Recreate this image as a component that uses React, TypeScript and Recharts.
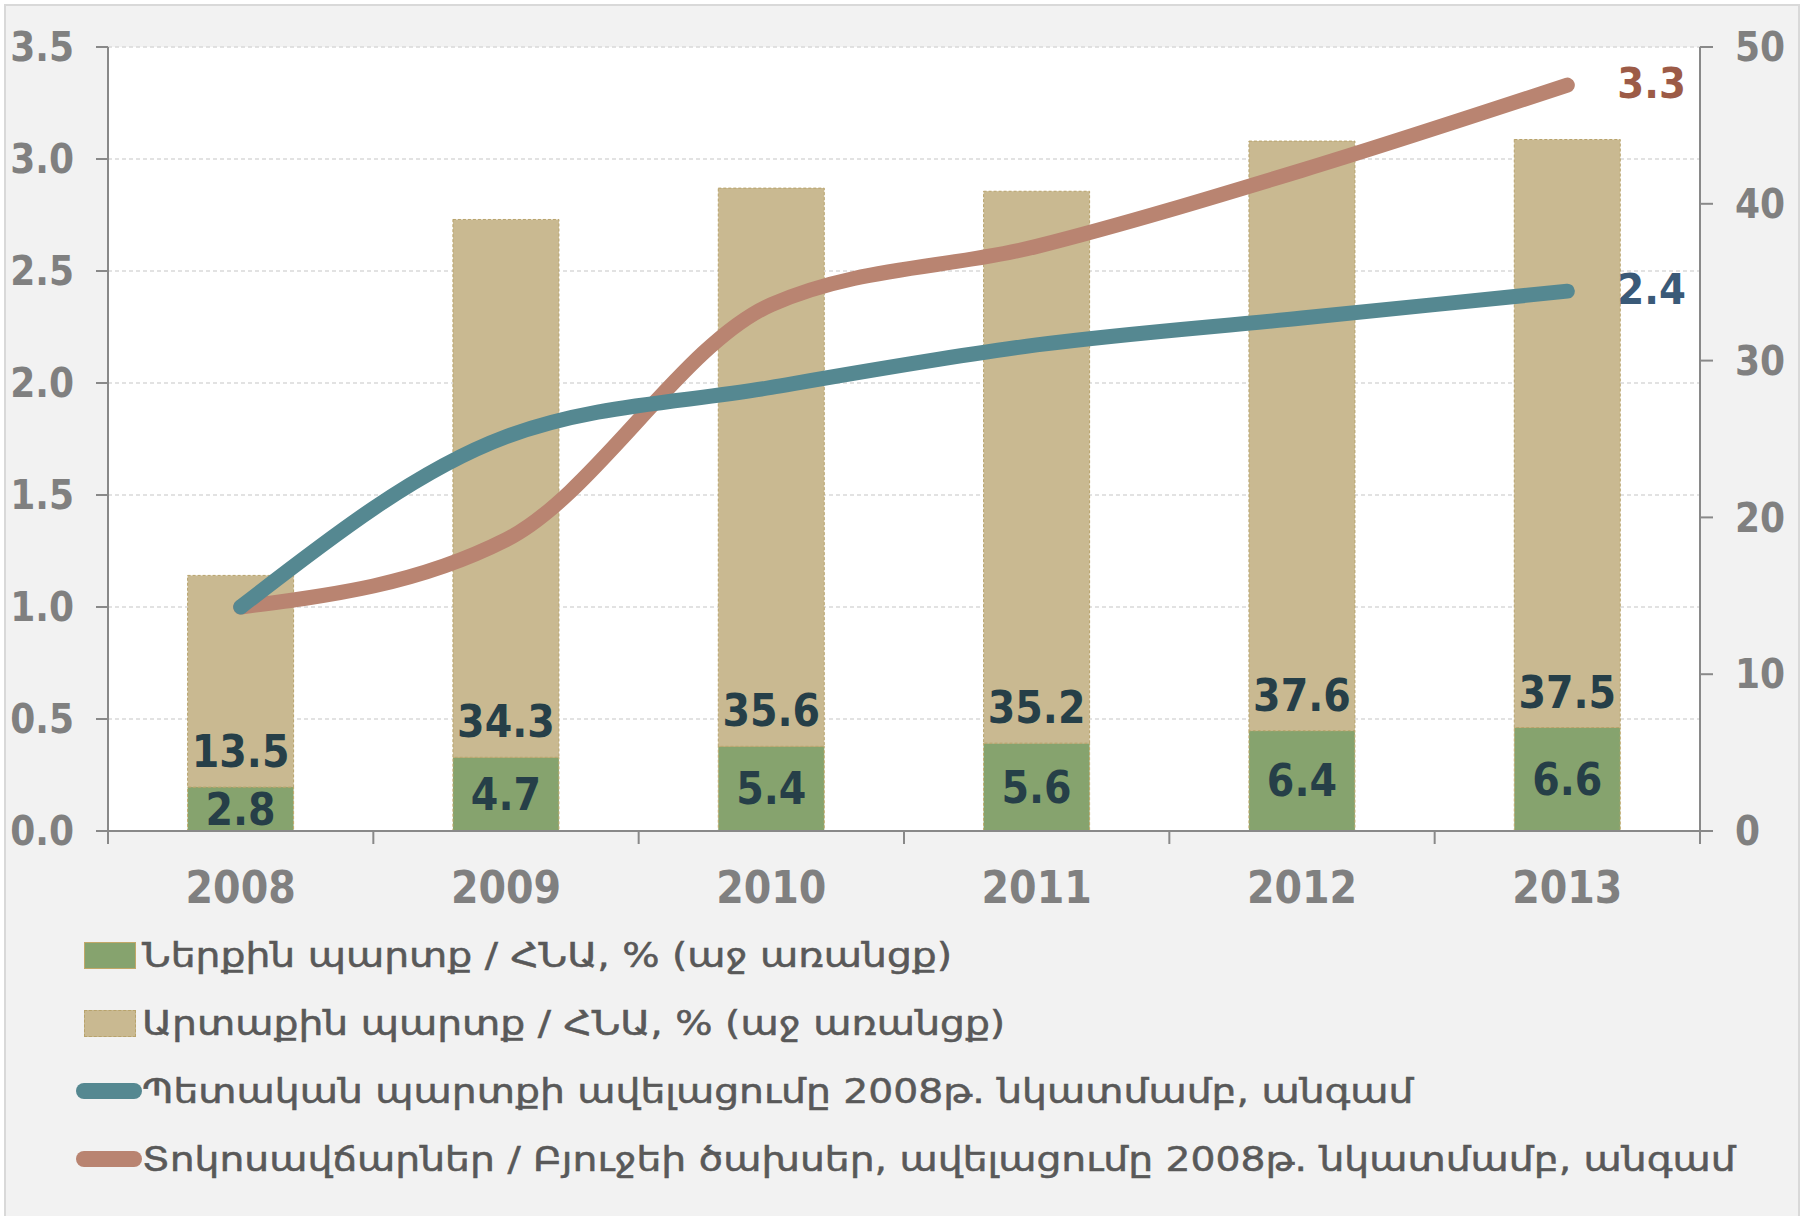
import React from "react";
import { ComposedChart, Bar, Line, XAxis, YAxis, CartesianGrid, LabelList } from "recharts";

const years = ["2008", "2009", "2010", "2011", "2012", "2013"];
const domesticDebt = [2.8, 4.7, 5.4, 5.6, 6.4, 6.6];
const externalDebt = [13.5, 34.3, 35.6, 35.2, 37.6, 37.5];
const debtGrowth = [1.0, 1.76, 1.98, 2.17, 2.29, 2.41];
const interestGrowth = [1.0, 1.3, 2.35, 2.61, 2.95, 3.33];
const leftTicks = [0, 0.5, 1, 1.5, 2, 2.5, 3, 3.5];
const rightTicks = [0, 10, 20, 30, 40, 50];
const legendNames = [
  "Ներքին պարտք / ՀՆԱ, % (աջ առանցք)",
  "Արտաքին պարտք / ՀՆԱ, % (աջ առանցք)",
  "Պետական պարտքի ավելացումը 2008թ. նկատմամբ, անգամ",
  "Տոկոսավճարներ / Բյուջեի ծախսեր, ավելացումը 2008թ. նկատմամբ, անգամ",
];

const data = years.map((year, i) => ({
  year,
  domestic: domesticDebt[i],
  external: externalDebt[i],
  debt: debtGrowth[i],
  interest: interestGrowth[i],
}));

const FONT = '"DejaVu Sans Condensed", "DejaVu Sans", sans-serif';
const GREEN = "#86a36e";
const BEIGE = "#c9b991";
const BLUE = "#558891";
const BROWN = "#b98471";
const AXIS = "#898989";

function YearTick(props: any) {
  const { x, y, payload, index, width } = props;
  const band = width / years.length;
  const left = x - band / 2;
  return (
    <g>
      <line x1={left} x2={left} y1={y} y2={y + 13} stroke={AXIS} strokeWidth={2} />
      {index === years.length - 1 && (
        <line x1={left + band} x2={left + band} y1={y} y2={y + 13} stroke={AXIS} strokeWidth={2} />
      )}
      <text x={x} y={y + 72} textAnchor="middle" fill="#808080" fontSize={44} fontWeight="bold" fontFamily={FONT}>
        {payload.value}
      </text>
    </g>
  );
}

function endLabel(color: string) {
  return (props: any) => {
    const { x, y, index, value } = props;
    if (index !== years.length - 1) return null;
    return (
      <text x={x + 50} y={y} dy="0.3em" fill={color} fontSize={43} fontWeight="bold" fontFamily={FONT}>
        {Number(value).toFixed(1)}
      </text>
    );
  };
}

const labelStyle = { fill: "#263f48", fontSize: 44, fontWeight: "bold", fontFamily: FONT };

export default function App() {
  return (
    <div style={{ position: "absolute", left: 0, top: 0, width: 1805, height: 1216, overflow: "hidden" }}>
      <div
        style={{
          position: "absolute",
          left: 4,
          top: 4,
          width: 1792,
          height: 1230,
          background: "#f2f2f2",
          border: "2px solid #d9d9d9",
        }}
      />
      <div style={{ position: "absolute", left: 0, top: 0 }}>
        <ComposedChart
          width={1805}
          height={1216}
          data={data}
          margin={{ top: 47, right: 0, bottom: 300, left: 8 }}
          barCategoryGap="30%"
        >
          <CartesianGrid
            yAxisId="left"
            vertical={false}
            stroke="#d9d9d9"
            strokeWidth={1.5}
            strokeDasharray="4 3"
            fill="#ffffff"
          />
          <XAxis
            dataKey="year"
            height={85}
            tickSize={0}
            tickMargin={0}
            tickLine={false}
            axisLine={{ stroke: AXIS, strokeWidth: 2 }}
            tick={<YearTick />}
            interval={0}
          />
          <YAxis
            yAxisId="left"
            orientation="left"
            width={100}
            domain={[0, 3.5]}
            ticks={leftTicks}
            tickFormatter={(v: number) => v.toFixed(1)}
            tickSize={12}
            tickMargin={22}
            axisLine={{ stroke: AXIS, strokeWidth: 2 }}
            tickLine={{ stroke: AXIS, strokeWidth: 2 }}
            tick={{ fill: "#808080", fontSize: 40, fontWeight: "bold", fontFamily: FONT }}
          />
          <YAxis
            yAxisId="right"
            orientation="right"
            width={105}
            domain={[0, 50]}
            ticks={rightTicks}
            tickSize={13}
            tickMargin={22}
            axisLine={{ stroke: AXIS, strokeWidth: 2 }}
            tickLine={{ stroke: AXIS, strokeWidth: 2 }}
            tick={{ fill: "#808080", fontSize: 40, fontWeight: "bold", fontFamily: FONT }}
          />
          <Bar
            yAxisId="right"
            dataKey="domestic"
            stackId="debt"
            fill={GREEN}
            stroke="#c2a868"
            strokeWidth={1}
            strokeDasharray="3 2"
            isAnimationActive={false}
          >
            <LabelList dataKey="domestic" position="center" {...labelStyle} formatter={(v: any) => Number(v).toFixed(1)} />
          </Bar>
          <Bar
            yAxisId="right"
            dataKey="external"
            stackId="debt"
            fill={BEIGE}
            stroke="#b8a36c"
            strokeWidth={1}
            strokeDasharray="3 2"
            isAnimationActive={false}
          >
            <LabelList
              dataKey="external"
              position="insideBottom"
              offset={20}
              {...labelStyle}
              formatter={(v: any) => Number(v).toFixed(1)}
            />
          </Bar>
          <Line
            yAxisId="left"
            type="monotone"
            dataKey="interest"
            stroke={BROWN}
            strokeWidth={15}
            strokeLinecap="round"
            dot={false}
            activeDot={false}
            isAnimationActive={false}
          >
            <LabelList dataKey="interest" content={endLabel("#9c5b47")} />
          </Line>
          <Line
            yAxisId="left"
            type="monotone"
            dataKey="debt"
            stroke={BLUE}
            strokeWidth={15}
            strokeLinecap="round"
            dot={false}
            activeDot={false}
            isAnimationActive={false}
          >
            <LabelList dataKey="debt" content={endLabel("#3a5a78")} />
          </Line>
        </ComposedChart>
      </div>
      <div style={{ position: "absolute", left: 76, top: 921 }}>
        {legendNames.map((name, i) => (
          <div key={name} style={{ display: "flex", alignItems: "center", height: 68 }}>
            <div style={{ width: 66, display: "flex", alignItems: "center" }}>
              {i < 2 ? (
                <div
                  style={{
                    marginLeft: 8,
                    width: 50,
                    height: 25,
                    background: i === 0 ? GREEN : BEIGE,
                    border: i === 0 ? "1px solid #c2a868" : "1px dashed #b8a36c",
                  }}
                />
              ) : (
                <div style={{ width: 66, height: 16, borderRadius: 8, background: i === 2 ? BLUE : BROWN }} />
              )}
            </div>
            <span
              style={{
                display: "inline-block",
                fontFamily: '"DejaVu Sans", sans-serif',
                fontSize: 33,
                color: "#595959",
                WebkitTextStroke: "0.5px #595959",
                whiteSpace: "nowrap",
                transform: "scaleX(1.19)",
                transformOrigin: "left center",
              }}
            >
              {name}
            </span>
          </div>
        ))}
      </div>
    </div>
  );
}
